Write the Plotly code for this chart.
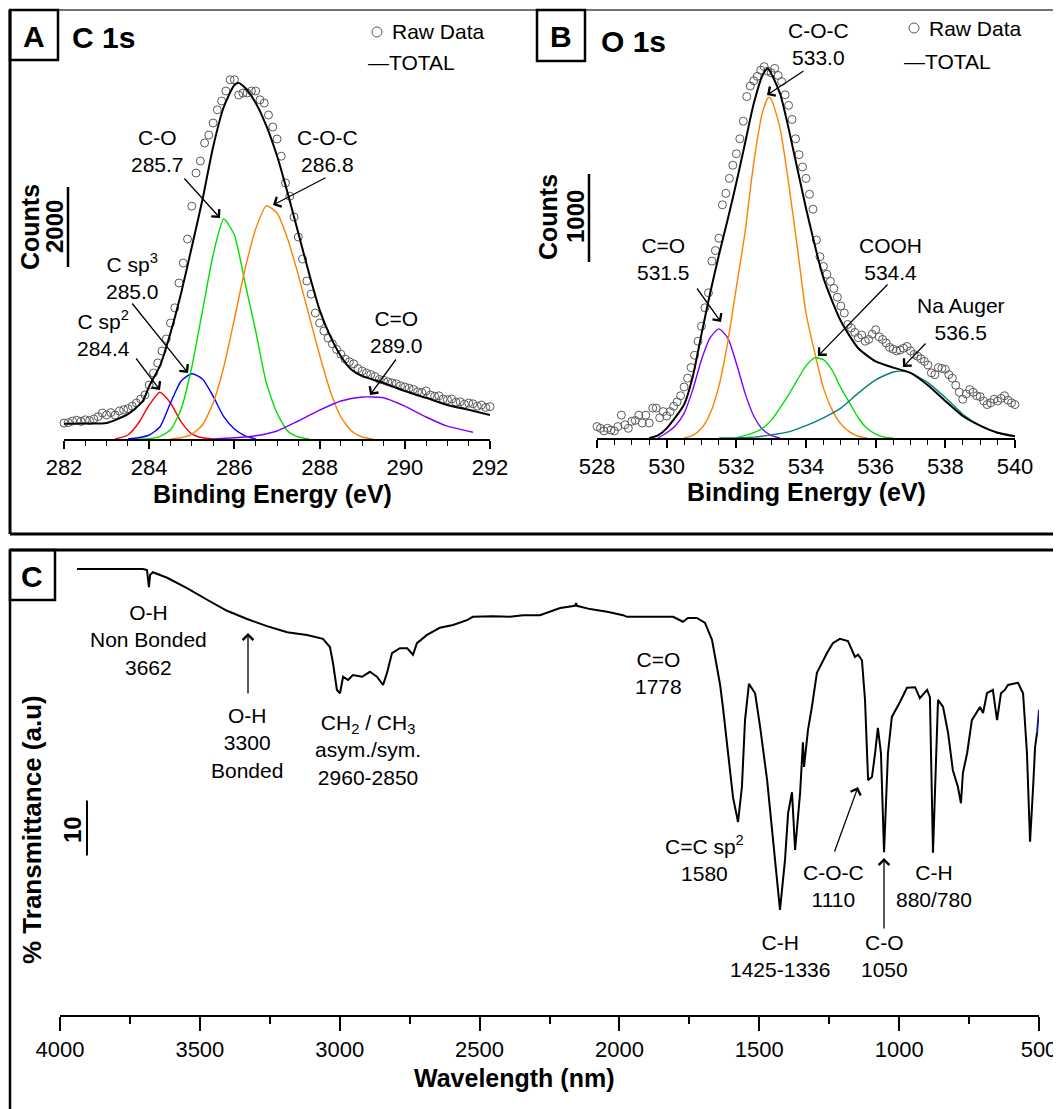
import plotly.graph_objects as go

# page body has an 8px margin: the figure is drawn from (8, 8) to (1061, 1109)
OX, OY = 8, 8
W, H = 1061 - OX, 1109 - OY
FONT = "Liberation Sans, Arial, Helvetica, sans-serif"


def PX(x):
    return (x - OX) / W


def PY(y):
    return 1 - (y - OY) / H


# ---------------- Panel A : C 1s ----------------
a_raw_start = 282.0
a_raw_counts = [400, 410, 450, 470, 440, 480, 460, 500, 560, 650,
                600, 660, 600, 700, 730, 760, 820, 900, 1000, 1100,
                1350, 1650, 1900, 2200, 2500, 2900, 3280, 3900, 4400, 5000,
                5820, 6650, 6950, 7400, 7600, 7900, 8230, 8450, 8700, 8980,
                8980, 8600, 8650, 8650, 8700, 8700, 8480, 8400, 8100, 7800,
                7500, 7070, 6400, 6070, 5550, 5050, 4500, 3950, 3620, 3150,
                2900, 2700, 2520, 2380, 2240, 2120, 2000, 1930, 1880, 1760,
                1700, 1650, 1610, 1560, 1490, 1470, 1430, 1400, 1380, 1330,
                1300, 1270, 1240, 1180, 1160, 1200, 1100, 1070, 1080, 1000,
                980, 1000, 920, 930, 870, 900, 880, 820, 850, 790,
                810, 760]

a_tot_x = [282.0, 282.5, 283.0, 283.5, 283.85, 284.0, 284.25, 284.5, 284.75, 285.0,
           285.25, 285.5, 285.75, 286.0, 286.1, 286.25, 286.5, 286.75, 287.0, 287.25,
           287.5, 287.75, 288.0, 288.25, 288.5, 288.75, 289.0, 289.5, 290.0, 290.5,
           291.0, 291.5, 292.0]
a_tot_y = [380, 385, 400, 620, 950, 1320, 1820, 2650, 3650, 4800,
           5980, 7300, 8300, 8850, 8900, 8780, 8400, 7830, 7080, 6150,
           5150, 4150, 3230, 2570, 2070, 1730, 1570, 1400, 1200, 1030,
           850, 730, 600]

a_sp2_x = [283.2, 283.5, 283.75, 284.0, 284.25, 284.5, 284.75, 285.0, 285.25, 285.5]
a_sp2_y = [0, 100, 400, 850, 1170, 900, 430, 130, 30, 0]

a_sp3_x = [283.5, 283.75, 284.0, 284.25, 284.5, 284.75, 285.0, 285.25, 285.5, 285.75,
           286.0, 286.25, 286.5]
a_sp3_y = [0, 30, 100, 300, 900, 1450, 1630, 1500, 1070, 560, 250, 80, 0]

a_co_x = [283.75, 284.0, 284.25, 284.5, 284.75, 285.0, 285.25, 285.5, 285.75, 286.0,
          286.25, 286.5, 286.75, 287.0, 287.25, 287.5, 287.75]
a_co_y = [0, 10, 60, 230, 750, 1800, 3200, 4600, 5500, 5100,
          3900, 2700, 1400, 650, 200, 50, 0]

a_coc_x = [284.5, 284.75, 285.0, 285.25, 285.5, 285.75, 286.0, 286.25, 286.5, 286.75,
           287.0, 287.25, 287.5, 287.75, 288.0, 288.25, 288.5, 288.75, 289.0, 289.25]
a_coc_y = [0, 30, 120, 350, 900, 1800, 3000, 4250, 5250, 5830,
           5650, 5000, 4100, 3100, 2100, 1200, 550, 200, 50, 0]

a_cdo_x = [285.5, 286.0, 286.5, 287.0, 287.5, 288.0, 288.5, 289.0, 289.5, 290.0,
           290.5, 291.0, 291.6]
a_cdo_y = [0, 30, 80, 200, 450, 720, 950, 1050, 1030, 820, 550, 320, 170]

a_ticks = [282, 284, 286, 288, 290, 292]

# ---------------- Panel B : O 1s ----------------
b_raw_start = 528.0
b_raw_counts = [130, 110, 80, 110, 90, 80, 130, 260, 150, 110,
                190, 200, 260, 170, 260, 170, 340, 340, 230, 300,
                250, 300, 360, 410, 480, 580, 680, 800, 940, 1100,
                1270, 1480, 1650, 2010, 2130, 2270, 2650, 2780, 2950, 3100,
                3230, 3400, 3600, 3880, 4000, 4060, 4110, 4180, 4220, 4170,
                4150, 4200, 4120, 4050, 3900, 3780, 3620, 3400, 3220, 3080,
                2950, 2770, 2600, 2250, 2060, 1950, 1860, 1780, 1700, 1600,
                1500, 1420, 1290, 1250, 1200, 1140, 1170, 1100, 1120, 1180,
                1230, 1150, 1120, 1080, 1030, 1010, 990, 1000, 1020, 1040,
                990, 950, 930, 900, 870, 830, 740, 720, 800, 790,
                780, 720, 680, 600, 520, 440, 500, 550, 520, 480,
                470, 420, 380, 400, 440, 420, 450, 480, 430, 400, 380]

b_tot_x = [529.5, 529.75, 530.0, 530.5, 530.75, 531.0, 531.25, 531.5, 531.75, 532.0,
           532.25, 532.5, 532.75, 532.9, 533.25, 533.5, 534.0, 534.5, 535.0, 535.5,
           536.0, 536.5, 537.0, 537.5, 538.0, 538.5, 539.0, 539.5, 540.0]
b_tot_y = [0, 30, 110, 380, 700, 1180, 1650, 2080, 2480, 2900,
           3350, 3800, 4120, 4200, 3920, 3520, 2610, 1820, 1330, 1020,
           870, 800, 740, 600, 420, 250, 140, 60, 20]

b_cdo_x = [529.75, 530.0, 530.25, 530.5, 530.75, 531.0, 531.25, 531.5, 531.75, 532.0,
           532.25, 532.5, 532.75, 533.0, 533.25]
b_cdo_y = [0, 60, 140, 280, 550, 890, 1140, 1240, 1140, 850, 510, 250, 100, 30, 0]

b_coc_x = [530.5, 530.75, 531.0, 531.25, 531.5, 531.75, 532.0, 532.25, 532.5, 532.75,
           532.92, 533.0, 533.25, 533.5, 533.75, 534.0, 534.25, 534.5, 534.75, 535.0,
           535.25, 535.5, 535.75]
b_coc_y = [0, 30, 110, 280, 590, 1080, 1710, 2340, 3130, 3700,
           3870, 3850, 3530, 2900, 2170, 1420, 970, 570, 320, 160,
           70, 20, 0]

b_cooh_x = [532.0, 532.5, 532.75, 533.0, 533.25, 533.5, 533.75, 534.0, 534.25, 534.5,
            534.75, 535.0, 535.25, 535.5, 535.75, 536.0, 536.25, 536.5]
b_cooh_y = [0, 60, 110, 200, 340, 490, 660, 820, 910, 890,
            770, 570, 400, 230, 110, 45, 10, 0]

b_na_x = [531.5, 532.5, 533.0, 533.5, 534.0, 534.5, 535.0, 535.5, 536.0, 536.5,
          536.75, 537.0, 537.5, 538.0, 538.5, 539.0, 539.5, 540.0]
b_na_y = [0, 10, 35, 70, 140, 230, 340, 510, 660, 750,
          760, 740, 630, 460, 270, 140, 60, 20]

b_ticks = [528, 530, 532, 534, 536, 538, 540]

# ---------------- Panel C : FTIR ----------------
c_wave = [3939, 3703, 3689, 3682, 3678, 3668, 3617, 3546, 3474, 3403,
          3331, 3260, 3188, 3117, 3060, 3035, 3024, 3010, 2999, 2988,
          2970, 2953, 2920, 2892, 2867, 2845, 2831, 2813, 2785, 2759,
          2738, 2724, 2688, 2642, 2595, 2545, 2524, 2452, 2391, 2345,
          2284, 2212, 2159, 2155, 2152, 2105, 2044, 1987, 1973, 1926,
          1808, 1773, 1755, 1723, 1694, 1669, 1651, 1640, 1630, 1612,
          1594, 1576, 1562, 1551, 1537, 1515, 1497, 1472, 1451, 1426,
          1408, 1397, 1383, 1372, 1354, 1344, 1340, 1329, 1326, 1312,
          1294, 1258, 1237, 1212, 1183, 1158, 1147, 1133, 1122, 1111,
          1097, 1086, 1076, 1065, 1054, 1040, 1026, 997, 972, 943,
          926, 900, 890, 879, 861, 843, 825, 808, 790, 779,
          772, 757, 740, 711, 700, 686, 665, 650, 636, 622,
          611, 575, 557, 543, 532, 521, 514, 507]
c_trans = [81.1, 81.1, 80.9, 77.8, 80.0, 80.5, 79.5, 77.6, 75.5, 73.5,
           72.0, 70.7, 69.6, 69.1, 68.4, 66.9, 64.0, 59.1, 58.5, 61.5,
           60.9, 61.8, 61.5, 62.4, 61.5, 60.0, 62.2, 65.8, 66.7, 66.7,
           65.5, 67.6, 69.1, 70.4, 70.9, 71.8, 72.4, 72.5, 72.4, 72.7,
           72.7, 74.0, 74.4, 74.9, 74.4, 73.8, 73.3, 72.7, 72.4, 72.4,
           72.4, 71.5, 72.2, 72.2, 71.3, 68.2, 63.3, 60.0, 56.0, 47.6,
           39.6, 35.1, 41.5, 53.6, 60.2, 58.5, 52.4, 42.7, 31.8, 19.1,
           28.2, 36.7, 40.5, 30.0, 40.4, 49.6, 45.1, 50.5, 51.8, 56.0,
           62.2, 65.8, 67.6, 68.4, 68.0, 65.1, 65.5, 64.5, 57.3, 42.7,
           43.3, 47.6, 52.2, 47.6, 29.6, 47.6, 54.2, 56.9, 59.5, 59.6,
           57.6, 59.1, 57.8, 29.5, 57.3, 56.0, 51.3, 44.5, 41.5, 38.5,
           44.0, 47.6, 53.6, 56.0, 54.9, 58.5, 59.1, 53.6, 58.5, 59.1,
           60.0, 60.4, 58.5, 47.6, 31.5, 41.5, 48.7, 51.3]
c_tail_wave = [507, 500]
c_tail_trans = [51.3, 55.5]
c_ticks = [4000, 3500, 3000, 2500, 2000, 1500, 1000, 500]

# ---------------- figure ----------------
fig = go.Figure()

raw_marker = dict(symbol="circle-open", size=8, color="#5a5a5a", line=dict(width=1))


def comp(x, y, color, xa, ya, width=1.4):
    fig.add_trace(go.Scatter(x=x, y=y, mode="lines", xaxis=xa, yaxis=ya,
                             line=dict(color=color, width=width, shape="spline", smoothing=0.6),
                             hoverinfo="skip"))


# Panel A
a_raw_x = [round(a_raw_start + 0.1 * i, 1) for i in range(len(a_raw_counts))]
comp(a_sp2_x, a_sp2_y, "#ff0000", "x", "y")
comp(a_sp3_x, a_sp3_y, "#0000ff", "x", "y")
comp(a_co_x, a_co_y, "#00e000", "x", "y")
comp(a_coc_x, a_coc_y, "#ff8000", "x", "y")
comp(a_cdo_x, a_cdo_y, "#8000ff", "x", "y")
fig.add_trace(go.Scatter(x=a_raw_x, y=a_raw_counts, mode="markers", marker=raw_marker,
                         xaxis="x", yaxis="y", cliponaxis=False))
comp(a_tot_x, a_tot_y, "black", "x", "y", width=2)

# Panel B
b_raw_x = [round(b_raw_start + 0.1 * i, 1) for i in range(len(b_raw_counts))]
comp(b_cdo_x, b_cdo_y, "#8000ff", "x2", "y2")
comp(b_coc_x, b_coc_y, "#ff8000", "x2", "y2")
comp(b_cooh_x, b_cooh_y, "#00e000", "x2", "y2")
comp(b_na_x, b_na_y, "#008080", "x2", "y2")
fig.add_trace(go.Scatter(x=b_raw_x, y=b_raw_counts, mode="markers", marker=raw_marker,
                         xaxis="x2", yaxis="y2", cliponaxis=False))
comp(b_tot_x, b_tot_y, "black", "x2", "y2", width=2)

# Panel C
fig.add_trace(go.Scatter(x=c_wave, y=c_trans, mode="lines", xaxis="x3", yaxis="y3",
                         line=dict(color="black", width=2), hoverinfo="skip"))
fig.add_trace(go.Scatter(x=c_tail_wave, y=c_tail_trans, mode="lines", xaxis="x3", yaxis="y3",
                         line=dict(color="#1a1aa0", width=2), hoverinfo="skip"))

xstyle = dict(showgrid=False, zeroline=False, showline=True, linecolor="black", linewidth=2,
              ticks="outside", tickcolor="black", tickwidth=1.5, automargin=False,
              tickfont=dict(family=FONT, size=22, color="black"), fixedrange=True)
ystyle = dict(showgrid=False, zeroline=False, showline=False, showticklabels=False,
              ticks="", fixedrange=True, automargin=False)

fig.update_layout(
    template="none",
    width=W, height=H, autosize=False,
    margin=dict(l=0, r=0, t=0, b=0, pad=0),
    paper_bgcolor="white", plot_bgcolor="rgba(0,0,0,0)",
    showlegend=False,
    font=dict(family=FONT, color="black"),
    xaxis=dict(domain=[PX(64), PX(490)], range=[282, 292], anchor="y",
               tickvals=a_ticks, ticklen=8,
               minor=dict(ticks="outside", dtick=0.5, tick0=282, ticklen=5,
                          tickwidth=1.2, tickcolor="black"), **xstyle),
    yaxis=dict(domain=[PY(439), PY(65)], range=[0, (439 - 65) * 25], anchor="x", **ystyle),
    xaxis2=dict(domain=[PX(597), PX(1015)], range=[528, 540], anchor="y2",
                tickvals=b_ticks, ticklen=8,
                minor=dict(ticks="outside", dtick=0.5, tick0=528, ticklen=5,
                           tickwidth=1.2, tickcolor="black"), **xstyle),
    yaxis2=dict(domain=[PY(438), PY(55)], range=[0, (438 - 55) * 1000 / 88], anchor="x2", **ystyle),
    xaxis3=dict(domain=[PX(60), PX(1039)], range=[4000, 500], anchor="y3",
                tickvals=c_ticks, ticklen=14,
                minor=dict(ticks="outside", dtick=250, tick0=500, ticklen=7,
                           tickwidth=1.5, tickcolor="black"), **xstyle),
    yaxis3=dict(domain=[PY(1015), PY(555)], range=[0, (1015 - 555) / 5.5], anchor="x3", **ystyle),
)

# ---------- frames, boxes ----------
shapes = []


def pline(x0, y0, x1, y1, w=2.5, color="black"):
    shapes.append(dict(type="line", xref="paper", yref="paper",
                       x0=PX(x0), y0=PY(y0), x1=PX(x1), y1=PY(y1),
                       line=dict(color=color, width=w)))


def prect(x0, y0, x1, y1, w=2.5):
    shapes.append(dict(type="rect", xref="paper", yref="paper",
                       x0=PX(x0), y0=PY(y0), x1=PX(x1), y1=PY(y1),
                       line=dict(color="black", width=w), fillcolor="rgba(0,0,0,0)"))


pline(10, 10, 1061, 10, w=1.5, color="#444")
pline(10, 10, 10, 534, w=3)
pline(10, 534, 1061, 534, w=3)
pline(10, 550, 1061, 550, w=3)
pline(10, 550, 10, 1109, w=2.5)
prect(10, 10, 58, 60)
prect(537, 10, 585, 61)
prect(10, 550, 55, 600)

# legend circles
for cx, cy in [(377, 32), (914, 28)]:
    shapes.append(dict(type="circle", xref="paper", yref="paper",
                       x0=PX(cx - 5), x1=PX(cx + 5), y0=PY(cy + 5), y1=PY(cy - 5),
                       line=dict(color="#5a5a5a", width=1)))

# scale bars (in data units)
shapes.append(dict(type="line", xref="paper", yref="y", x0=PX(68), x1=PX(68), y0=4300, y1=6300,
                   line=dict(color="black", width=2.5)))
shapes.append(dict(type="line", xref="paper", yref="y2", x0=PX(589), x1=PX(589), y0=2000, y1=3000,
                   line=dict(color="black", width=2.5)))
shapes.append(dict(type="line", xref="paper", yref="y3", x0=PX(87), x1=PX(87), y0=29, y1=39,
                   line=dict(color="black", width=2)))
fig.update_layout(shapes=shapes)

# ---------- annotations ----------
ann = []


def txt(s, x, y, size=21, bold=False, angle=0, xanchor="center"):
    if bold:
        s = "<b>" + s + "</b>"
    ann.append(dict(text=s, x=PX(x), y=PY(y), xref="paper", yref="paper",
                    xanchor=xanchor, yanchor="middle", showarrow=False, textangle=angle,
                    font=dict(family=FONT, size=size, color="black")))


def arrow(tail, head):
    ann.append(dict(text="", x=PX(head[0]), y=PY(head[1]), xref="paper", yref="paper",
                    ax=tail[0] - head[0], ay=tail[1] - head[1], axref="pixel", ayref="pixel",
                    showarrow=True, arrowhead=4, arrowsize=1.6, arrowwidth=1.3,
                    arrowcolor="black", standoff=0, startstandoff=0))


# Panel letters / titles
txt("A", 34, 36, size=30, bold=True)
txt("B", 561, 36, size=30, bold=True)
txt("C", 32, 576, size=30, bold=True)
txt("C 1s", 70, 38, size=30, bold=True, xanchor="left")
txt("O 1s", 599, 41, size=30, bold=True, xanchor="left")

# legends
txt("Raw Data", 390, 32, xanchor="left")
txt("\u2014TOTAL", 366, 63, xanchor="left")
txt("Raw Data", 927, 29, xanchor="left")
txt("\u2014TOTAL", 902, 61, xanchor="left")

# axis titles / scale labels
txt("Binding Energy (eV)", 272, 494, size=25, bold=True)
txt("Binding Energy (eV)", 806, 492, size=25, bold=True)
txt("Wavelength (nm)", 514, 1078, size=25, bold=True)
txt("Counts", 30, 227, size=25, bold=True, angle=-90)
txt("2000", 55, 227, size=24, bold=True, angle=-90)
txt("Counts", 548, 217, size=25, bold=True, angle=-90)
txt("1000", 575, 217, size=24, bold=True, angle=-90)
txt("% Transmittance (a.u)", 32, 830, size=26, bold=True, angle=-90)
txt("10", 72, 830, size=24, bold=True, angle=-90)

# Panel A peak labels
txt("C-O<br>285.7", 157, 151)
txt("C-O-C<br>286.8", 327, 151)
txt("C sp<sup>3</sup><br>285.0", 132, 277)
txt("C sp<sup>2</sup><br>284.4", 103, 334)
txt("C=O<br>289.0", 396, 332)
arrow((183, 177), (220, 218))
arrow((327, 177), (273, 205))
arrow((131, 302), (188, 373))
arrow((135, 357), (160, 390))
arrow((397, 358), (370, 395))

# Panel B peak labels
txt("C-O-C<br>533.0", 818, 44)
txt("C=O<br>531.5", 663, 259)
txt("COOH<br>534.4", 890, 259)
txt("Na Auger<br>536.5", 961, 319)
arrow((805, 70), (767, 95))
arrow((696, 287), (721, 322))
arrow((889, 283), (818, 356))
arrow((927, 342), (903, 367))

# Panel C band labels
txt("O-H<br>Non Bonded<br>3662", 148, 640)
txt("O-H<br>3300<br>Bonded", 247, 743)
txt("CH<sub>2</sub> / CH<sub>3</sub><br>asym./sym.<br>2960-2850", 368, 750)
txt("C=O<br>1778", 658, 673)
txt("C=C sp<sup>2</sup><br>1580", 704, 858)
txt("C-O-C<br>1110", 833, 886)
txt("C-H<br>880/780", 934, 886)
txt("C-H<br>1425-1336", 780, 956)
txt("C-O<br>1050", 884, 956)
arrow((248, 695), (248, 633))
arrow((834, 853), (858, 787))
arrow((884, 930), (884, 858))

fig.update_layout(annotations=ann)

fig.write_html("out.html")
